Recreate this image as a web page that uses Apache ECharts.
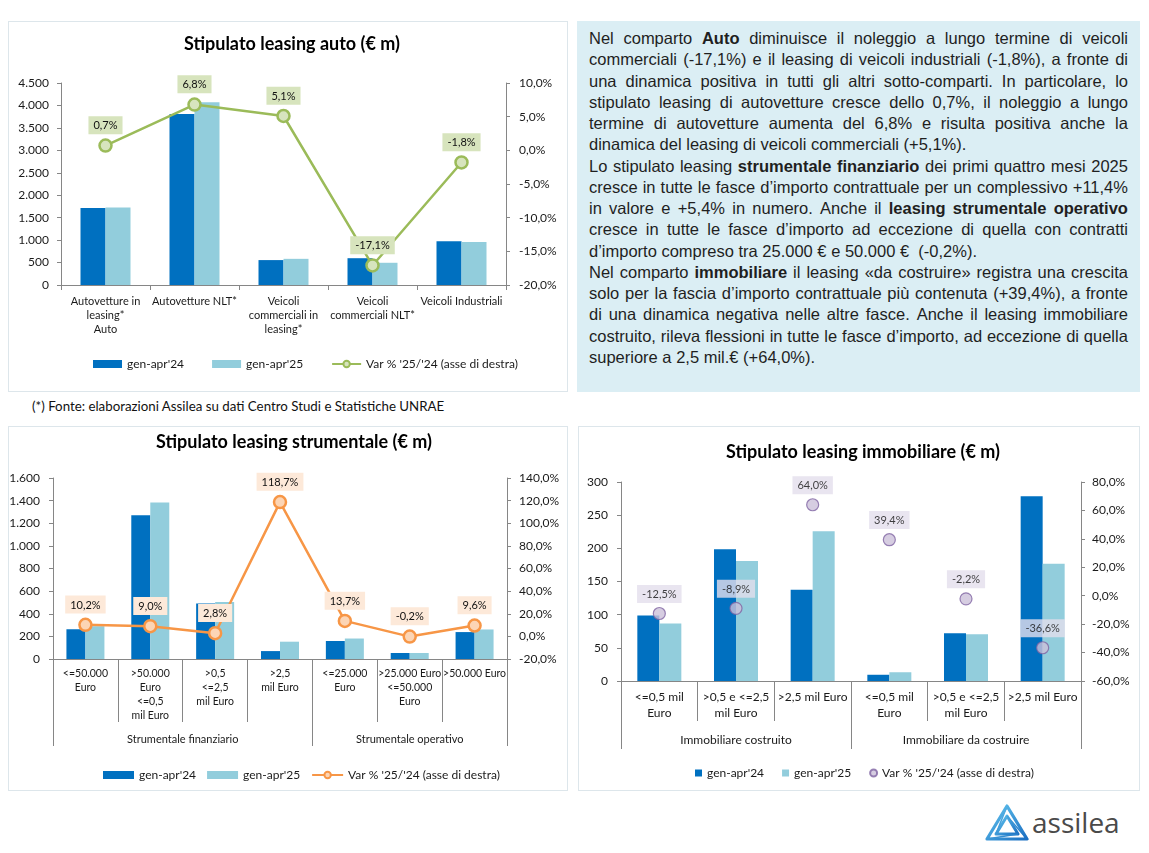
<!DOCTYPE html>
<html><head><meta charset="utf-8">
<script src="https://cdn.jsdelivr.net/npm/echarts@6/dist/echarts.min.js"></script>
<style>
html,body{margin:0;padding:0;background:#fff;}
body{width:1149px;height:853px;position:relative;overflow:hidden;font-family:Lato,"Open Sans",sans-serif;}
.panel{position:absolute;box-sizing:border-box;border:1.5px solid #dde6eb;background:#fff;}
#txt{position:absolute;left:577px;top:21px;width:563px;height:371px;background:#dbeef4;box-sizing:border-box;}
#lines{position:absolute;left:12px;top:7px;width:539px;font-family:"Liberation Sans",Arial,sans-serif;font-size:16.5px;line-height:21.27px;color:#1f1f1f;}
.j{display:flex;justify-content:space-between;white-space:pre;height:21.27px;}
.l{display:block;white-space:pre;height:21.27px;}
b{font-weight:bold;}
#foot{position:absolute;left:32px;top:398px;font-size:13.3px;color:#111;font-family:Lato,sans-serif;white-space:pre;}
#logo{position:absolute;left:984px;top:803px;}
#logotxt{position:absolute;left:1032px;top:804px;font-family:"Open Sans",sans-serif;font-size:28px;color:#4a4a4a;line-height:36px;}
</style>
</head><body>
<div id="c1" class="panel" style="left:8px;top:21px;width:560px;height:371px;"></div>
<div id="txt"><div id="lines"></div></div>
<div id="foot">(*) Fonte: elaborazioni Assilea su dati Centro Studi e Statistiche UNRAE</div>
<div id="c2" class="panel" style="left:8px;top:426px;width:560px;height:365px;"></div>
<div id="c3" class="panel" style="left:578px;top:426px;width:562px;height:365px;"></div>
<svg id="logo" width="46" height="40" viewBox="0 0 46 40">
 <defs><linearGradient id="lg" x1="0" y1="0" x2="1" y2="1"><stop offset="0" stop-color="#63c6ef"/><stop offset="1" stop-color="#1b6fc2"/></linearGradient></defs>
 <path d="M23 3 L43 36 L3 36 Z" fill="none" stroke="url(#lg)" stroke-width="3.2" stroke-linejoin="round"/>
 <path d="M23 13 L34 31 L12 31 Z" fill="none" stroke="url(#lg)" stroke-width="3" stroke-linejoin="round"/>
 <path d="M23 3 L12 31 M43 36 L23 13 M3 36 L34 31" fill="none" stroke="url(#lg)" stroke-width="1.6"/>
</svg>
<div id="logotxt">assilea</div>
<script>
// ---------- DATA ----------
const S24 = "gen-apr'24";
const S25 = "gen-apr'25";
const SV = "Var % '25/'24 (asse di destra)";

const autoCats = ['Autovetture in\nleasing*\nAuto', 'Autovetture NLT*', 'Veicoli\ncommerciali in\nleasing*', 'Veicoli\ncommerciali NLT*', 'Veicoli Industriali'];
const auto24 = [1715, 3810, 555, 597, 975];
const auto25 = [1727, 4069, 583, 495, 957];
const autoVar = [0.7, 6.8, 5.1, -17.1, -1.8];

const strCats = ['<=50.000\nEuro', '>50.000\nEuro\n<=0,5\nmil Euro', '>0,5\n<=2,5\nmil Euro', '>2,5\nmil Euro', '<=25.000\nEuro', '>25.000 Euro\n<=50.000\nEuro', '>50.000 Euro'];
const str24 = [263, 1270, 490, 70, 159, 53, 238];
const str25 = [290, 1384, 504, 153, 181, 53, 261];
const strVar = [10.2, 9.0, 2.8, 118.7, 13.7, -0.2, 9.6];
const strGroups = ['Strumentale finanziario', 'Strumentale operativo'];
const strSpans = [4, 3];

const immCats = ['<=0,5 mil\nEuro', '>0,5 e <=2,5\nmil Euro', '>2,5 mil Euro', '<=0,5 mil\nEuro', '>0,5 e <=2,5\nmil Euro', '>2,5 mil Euro'];
const imm24 = [98.9, 198.7, 137.6, 9.4, 72.0, 278.7];
const imm25 = [86.5, 181.0, 225.6, 13.2, 70.4, 176.8];
const immVar = [-12.5, -8.9, 64.0, 39.4, -2.2, -36.6];
const immGroups = ['Immobiliare costruito', 'Immobiliare da costruire'];
const immSpans = [3, 3];

const textLines = [
 ['j', 'Nel comparto **Auto** diminuisce il noleggio a lungo termine di veicoli'],
 ['j', 'commerciali (-17,1%) e il leasing di veicoli industriali (-1,8%), a fronte di'],
 ['j', 'una dinamica positiva in tutti gli altri sotto-comparti. In particolare, lo'],
 ['j', 'stipulato leasing di autovetture cresce dello 0,7%, il noleggio a lungo'],
 ['j', 'termine di autovetture aumenta del 6,8% e risulta positiva anche la'],
 ['l', 'dinamica del leasing di veicoli commerciali (+5,1%).'],
 ['j', 'Lo stipulato leasing **strumentale finanziario** dei primi quattro mesi 2025'],
 ['j', 'cresce in tutte le fasce d\u2019importo contrattuale per un complessivo +11,4%'],
 ['j', 'in valore e +5,4% in numero. Anche il **leasing strumentale operativo**'],
 ['j', 'cresce in tutte le fasce d\u2019importo ad eccezione di quella con contratti'],
 ['l', 'd\u2019importo compreso tra 25.000 \u20ac e 50.000 \u20ac  (-0,2%).'],
 ['j', 'Nel comparto **immobiliare** il leasing \u00abda costruire\u00bb registra una crescita'],
 ['j', 'solo per la fascia d\u2019importo contrattuale pi\u00f9 contenuta (+39,4%), a fronte'],
 ['j', 'di una dinamica negativa nelle altre fasce. Anche il leasing immobiliare'],
 ['j', 'costruito, rileva flessioni in tutte le fasce d\u2019importo, ad eccezione di quella'],
 ['l', 'superiore a 2,5 mil.\u20ac (+64,0%).']
];

// ---------- TEXT BOX ----------
(function(){
  const box = document.getElementById('lines');
  function esc(s){return s.replace(/&/g,'&amp;').replace(/</g,'&lt;').replace(/>/g,'&gt;');}
  textLines.forEach(([mode, line]) => {
    const d = document.createElement('div');
    d.className = mode;
    const words = line.split(' ');
    let bold = false;
    const parts = words.map(w => {
      let wb = bold;
      if (w.startsWith('**')) { w = w.slice(2); wb = true; bold = true; }
      if (w.endsWith('**')) { w = w.slice(0, -2); bold = false; }
      return wb ? '<b>' + esc(w) + '</b>' : esc(w);
    });
    if (mode === 'j') d.innerHTML = parts.map(p => '<span>' + p + '</span>').join('');
    else d.innerHTML = parts.join(' ');
    box.appendChild(d);
  });
})();

// ---------- CHARTS ----------
const FONT = 'Lato, "Open Sans", sans-serif';
const C24 = '#0070c0', C25 = '#92cddc';
const AXIS = '#868686';
const TXT = '#1a1a1a';
function pct(v){ return Number(v).toFixed(1).replace('.', ',') + '%'; }
function thou(v){ return String(v).replace(/\B(?=(\d{3})+(?!\d))/g, '.'); }

function yLeft(min, max, interval, margin){
  return {type:'value', min, max, interval, position:'left',
    axisLine:{show:true, lineStyle:{color:AXIS, width:1}},
    axisTick:{show:true, length:4, lineStyle:{color:AXIS}},
    splitLine:{show:false},
    axisLabel:{formatter:thou, fontSize:12, margin:margin, color:TXT, fontFamily:FONT}};
}
function yRight(min, max, interval, margin){
  return {type:'value', min, max, interval, position:'right',
    axisLine:{show:true, lineStyle:{color:AXIS, width:1}},
    axisTick:{show:true, length:4, lineStyle:{color:AXIS}},
    splitLine:{show:false},
    axisLabel:{formatter:pct, fontSize:12, margin:margin, color:TXT, fontFamily:FONT}};
}
function xCat(data, tickLen, fontSize, lineHeight, margin){
  return {type:'category', data,
    axisLine:{show:true, lineStyle:{color:AXIS, width:1}},
    axisTick:{show:true, length:tickLen, lineStyle:{color:AXIS}},
    axisLabel:{interval:0, fontSize, lineHeight, margin, color:TXT, fontFamily:FONT}};
}
function bars(d24, d25, w){
  return [
    {name:S24, type:'bar', data:d24, barWidth:w, barGap:'0%', itemStyle:{color:C24}},
    {name:S25, type:'bar', data:d25, barWidth:w, barGap:'0%', itemStyle:{color:C25}}
  ];
}
function title(text, cx, top){
  return {text, left:cx, top, textAlign:'center',
    textStyle:{fontSize:18, fontWeight:'bold', color:'#000', fontFamily:FONT}};
}
function varLabel(bg){
  return {show:true, position:'top', distance:4, formatter:p => pct(p.value),
    backgroundColor:bg, padding:[4,5,3,5], fontSize:11, color:'#111', fontFamily:FONT};
}

function addGroups(chart, spans, names, yEnd, labelY, fontSize){
  const xa = chart.convertToPixel({xAxisIndex:0}, 0);
  const xb = chart.convertToPixel({xAxisIndex:0}, 1);
  const w = xb - xa;
  const y0 = chart.convertToPixel({yAxisIndex:0}, 0);
  const bounds = [0]; let k = 0;
  spans.forEach(s => { k += s; bounds.push(k); });
  const els = [];
  bounds.forEach(b => {
    const x = Math.round(xa - w/2 + b*w) + 0.5;
    els.push({type:'line', shape:{x1:x, y1:y0, x2:x, y2:yEnd}, style:{stroke:AXIS, lineWidth:1}, silent:true});
  });
  names.forEach((n, i) => {
    const cx = xa - w/2 + (bounds[i] + bounds[i+1]) / 2 * w;
    els.push({type:'text', x:cx, y:labelY, silent:true,
      style:{text:n, fill:TXT, fontSize, fontFamily:FONT, align:'center', textAlign:'center', verticalAlign:'middle', textVerticalAlign:'middle'}});
  });
  chart.setOption({graphic: els});
}

// Chart 1: auto
const ch1 = echarts.init(document.getElementById('c1'), null, {renderer:'canvas'});
ch1.setOption({
  animation:false,
  textStyle:{fontFamily:FONT},
  title: title('Stipulato leasing auto (\u20ac m)', 278, 8),
  grid:{left:52, right:61, top:61, bottom:106, containLabel:false, outerBoundsMode:'none'},
  legend:{left:79, top:331, itemWidth:29, itemHeight:8, itemGap:28,
    textStyle:{fontSize:12, color:TXT, fontFamily:FONT},
    data:[{name:S24, icon:'rect'}, {name:S25, icon:'rect'}, {name:SV}]},
  xAxis: xCat(autoCats, 5, 11, 14, 9),
  yAxis: [yLeft(0, 4500, 500, 12), yRight(-20, 10, 5, 13)],
  series: bars(auto24, auto25, 25).concat([{
    name:SV, type:'line', yAxisIndex:1, data:autoVar, symbol:'circle', symbolSize:12, z:5,
    lineStyle:{color:'#9bbb59', width:2.5},
    itemStyle:{color:'#d7e4bd', borderColor:'#9bbb59', borderWidth:2.5},
    label: varLabel('#d7e4bd')
  }])
});

// Chart 2: strumentale
const ch2 = echarts.init(document.getElementById('c2'), null, {renderer:'canvas'});
ch2.setOption({
  animation:false,
  textStyle:{fontFamily:FONT},
  title: title('Stipulato leasing strumentale (\u20ac m)', 280, 1),
  grid:{left:44, right:60, top:51, bottom:131, containLabel:false, outerBoundsMode:'none'},
  legend:{left:89, top:337, itemWidth:31, itemHeight:8, itemGap:11,
    textStyle:{fontSize:12, color:TXT, fontFamily:FONT},
    data:[{name:S24, icon:'rect'}, {name:S25, icon:'rect'}, {name:SV}]},
  xAxis: xCat(strCats, 63, 10.5, 14, 8),
  yAxis: [yLeft(0, 1600, 200, 13), yRight(-20, 140, 20, 12)],
  series: bars(str24, str25, 19).concat([{
    name:SV, type:'line', yAxisIndex:1, data:strVar, symbol:'circle', symbolSize:12, z:5,
    lineStyle:{color:'#f79646', width:2.5},
    itemStyle:{color:'#fcd5b5', borderColor:'#f79646', borderWidth:2.5},
    label: varLabel('#fde9d9')
  }])
});
addGroups(ch2, strSpans, strGroups, 319, 312, 11);

// Chart 3: immobiliare
const ch3 = echarts.init(document.getElementById('c3'), null, {renderer:'canvas'});
ch3.setOption({
  animation:false,
  textStyle:{fontFamily:FONT},
  title: title('Stipulato leasing immobiliare (\u20ac m)', 279, 11),
  grid:{left:42, right:58, top:55, bottom:109, containLabel:false, outerBoundsMode:'none'},
  legend:{left:111, top:335, itemWidth:7, itemHeight:7, itemGap:18,
    textStyle:{fontSize:12, color:TXT, fontFamily:FONT},
    data:[{name:S24, icon:'rect'}, {name:S25, icon:'rect'}, {name:SV, icon:'circle'}]},
  xAxis: xCat(immCats, 40, 12, 16, 8),
  yAxis: [yLeft(0, 300, 50, 13), yRight(-60, 80, 20, 11)],
  series: bars(imm24, imm25, 22).concat([{
    name:SV, type:'scatter', yAxisIndex:1, data:immVar, symbol:'circle', symbolSize:12, z:5,
    itemStyle:{color:'#ccc0da', borderColor:'#8064a2', borderWidth:1.2},
    label: varLabel('#e4dfec')
  }])
});
addGroups(ch3, immSpans, immGroups, 322, 313, 12);
</script>
</body></html>
